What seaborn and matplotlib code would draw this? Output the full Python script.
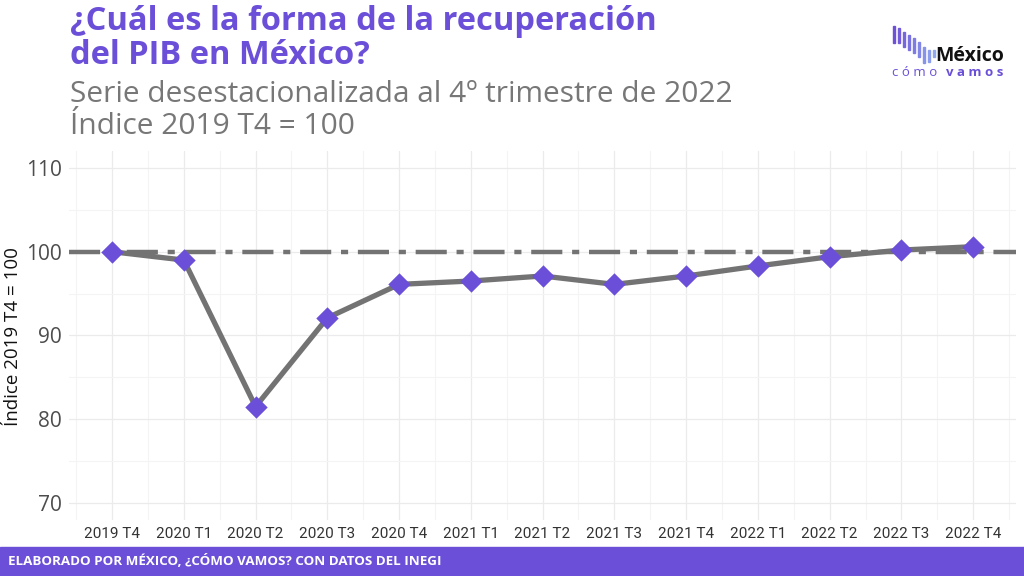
import matplotlib
matplotlib.use("Agg")
import matplotlib.pyplot as plt
from matplotlib.patches import Rectangle
import seaborn as sns
import pandas as pd
import numpy as np

trimestres = ["2019 T4", "2020 T1", "2020 T2", "2020 T3", "2020 T4", "2021 T1",
              "2021 T2", "2021 T3", "2021 T4", "2022 T1", "2022 T2", "2022 T3", "2022 T4"]
indice = [100.0, 99.0, 81.5, 92.1, 96.1, 96.5, 97.1, 96.1, 97.1, 98.3, 99.4, 100.2, 100.6]
referencia = 100
y_ticks = [70, 80, 90, 100, 110]

PURPLE = "#6B4FD8"
GRAY_LINE = "#737373"

sns.set_theme(style="whitegrid")
plt.rcParams["font.family"] = ["Open Sans", "DejaVu Sans"]

df = pd.DataFrame({"trimestre": trimestres, "indice": indice})
df["pos"] = np.arange(len(df))

W, H = 1024, 576
fig = plt.figure(figsize=(10.24, 5.76), dpi=100)
ax = fig.add_axes([0.0674, 0.0977, 0.925, 0.6398])

ax.axhline(referencia, color=GRAY_LINE, lw=3.2, dashes=(7, 2.2, 1.6, 2.2), zorder=2)
sns.lineplot(data=df, x="pos", y="indice", color=GRAY_LINE, lw=3.8, ax=ax, zorder=3)
sns.scatterplot(data=df, x="pos", y="indice", marker="D", s=130, color=PURPLE,
                edgecolor=PURPLE, linewidth=0, ax=ax, zorder=4)

ax.set_xlim(-0.6, len(df) - 0.4)
ax.set_ylim(68, 112)
ax.set_xticks(df["pos"])
ax.set_xticklabels(trimestres, fontsize=11, color="#333333", family=["Roboto", "DejaVu Sans"])
ax.set_xticks(np.arange(-0.5, len(df), 1), minor=True)
ax.set_yticks(y_ticks)
ax.set_yticks([75, 85, 95, 105], minor=True)
ax.set_yticklabels([str(v) for v in y_ticks], fontsize=15, color="#4d4d4d")
ax.grid(which="major", color="#EBEBEB", lw=0.9)
ax.grid(which="minor", color="#F4F4F4", lw=0.8)
ax.tick_params(axis="x", which="both", length=0, pad=5)
ax.tick_params(axis="y", which="both", length=0, pad=5)
ax.set_xlabel("")
ax.set_ylabel("")
for s in ax.spines.values():
    s.set_visible(False)
fig.text(13 / W, 1 - 337 / H, "Índice 2019 T4 = 100", fontsize=13.5, color="#111111",
         rotation=90, ha="center", va="center")

# Titles
fig.text(70 / W, 1 - 22 / H, "¿Cuál es la forma de la recuperación",
         fontsize=23.5, fontweight="bold", color=PURPLE, va="center", ha="left")
fig.text(70 / W, 1 - 56 / H, "del PIB en México?",
         fontsize=23.5, fontweight="bold", color=PURPLE, va="center", ha="left")
fig.text(70 / W, 1 - 95 / H, "Serie desestacionalizada al 4º trimestre de 2022",
         fontsize=21.5, color="#777777", va="center", ha="left")
fig.text(70 / W, 1 - 127 / H, "Índice 2019 T4 = 100",
         fontsize=21.5, color="#777777", va="center", ha="left")

# Footer band
fig.add_artist(Rectangle((0, 0), 1, 0.051, transform=fig.transFigure, color=PURPLE, zorder=0))
fig.text(0.008, 0.0255, "ELABORADO POR MÉXICO, ¿CÓMO VAMOS? CON DATOS DEL INEGI",
         fontsize=9.6, fontweight="bold", color="white", va="center", ha="left")

# Logo
bar_x = [893, 898, 903, 908, 913, 918, 923, 928, 933]
bar_top = [26, 28, 32, 35, 38, 42, 47, 50, 50]
bar_bot = [43, 43, 47, 50, 53, 57, 63, 62, 57]
cols = sns.blend_palette(["#6E4FD8", "#8EA9F0"], len(bar_x))
for xx, t, b, c in zip(bar_x, bar_top, bar_bot, cols):
    fig.add_artist(Rectangle((xx / W, 1 - b / H), 2.2 / W, (b - t) / H,
                             transform=fig.transFigure, color=c))
fig.text(935 / W, 1 - 56 / H, "México", fontsize=14, fontweight="bold",
         color="#111111", va="center", ha="left")
fig.text(892 / W, 1 - 73 / H, "c ó m o", fontsize=9.5, color=PURPLE,
         va="center", ha="left")
fig.text(946 / W, 1 - 73 / H, "v a m o s", fontsize=9.5, fontweight="bold", color=PURPLE,
         va="center", ha="left")

fig.savefig("out.png", dpi=100)
